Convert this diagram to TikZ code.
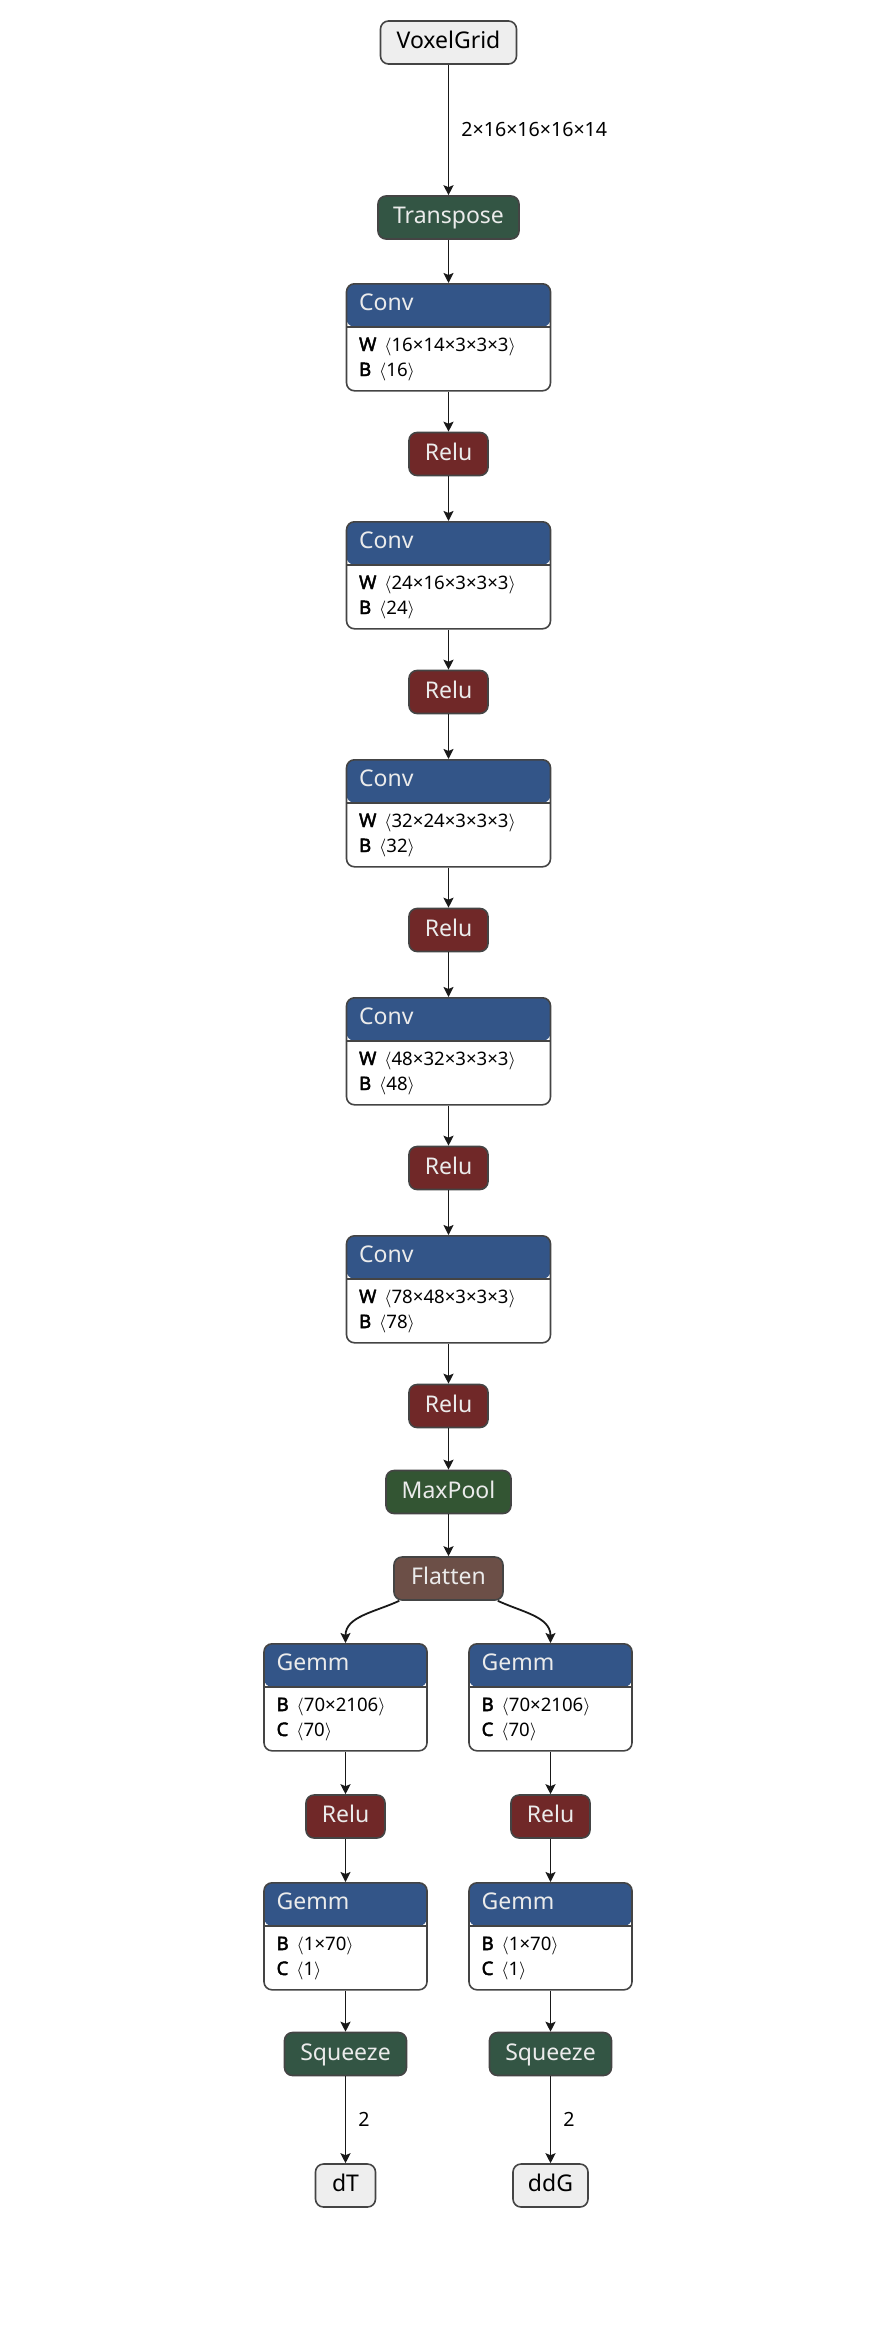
\documentclass[tikz,border=0pt]{standalone}
\usepackage{fontspec}
\setmainfont{Noto Sans}[BoldFont={Noto Sans}, BoldFeatures={FakeBold=2.5}]
\usetikzlibrary{arrows.meta,positioning}

\definecolor{inputc}{HTML}{EEEEEE}
\definecolor{layerc}{HTML}{335588}
\definecolor{reluc}{HTML}{702828}
\definecolor{transc}{HTML}{335544}
\definecolor{poolc}{HTML}{335533}
\definecolor{shapec}{HTML}{6C4F47}
\definecolor{linec}{HTML}{444444}

\tikzset{
  op/.style={draw=linec, line width=0.8pt, rounded corners=4pt, minimum height=21.5pt,
    inner xsep=2pt, text height=8.5pt, text depth=2.5pt,
    text=white!92!black, font=\fontsize{11.5}{13}\selectfont},
  io/.style={op, fill=inputc, text=black},
  layer/.style={draw=linec, line width=0.8pt, rounded corners=4pt, anchor=north,
    minimum height=53.5pt, fill=white,
    path picture={
      \fill[layerc] (path picture bounding box.north west)
        rectangle ([yshift=-21.5pt]path picture bounding box.north east);
      \draw[linec, line width=0.8pt] ([yshift=-21.5pt]path picture bounding box.north west)
        -- ([yshift=-21.5pt]path picture bounding box.north east);
    }},
  hd/.style={anchor=west, inner sep=0pt, text height=8.5pt, text depth=2.5pt,
    text=white!92!black, font=\fontsize{11.5}{13}\selectfont},
  attr/.style={anchor=west, inner sep=0pt, text height=7pt, text depth=2pt,
    font=\fontsize{9.3}{11}\selectfont},
  edge/.style={-{Stealth[length=5pt,width=5pt,inset=1pt]}, line width=0.9pt, draw=black!90},
  shapelbl/.style={right=6pt, inner sep=0pt, font=\fontsize{9.8}{11}\selectfont},
}

% name, position, width, title, row 1, row 2
\newcommand{\layerbox}[6]{%
  \node[layer, minimum width=#3] (#1) at (#2) {};
  \node[hd] (#1-title) at ([xshift=6.5pt,yshift=-10.75pt]#1.north west) {#4};
  \node[attr] (#1-r1) at ([xshift=6.5pt,yshift=-31.5pt]#1.north west) {#5};
  \node[attr] (#1-r2) at ([xshift=6.5pt,yshift=-44pt]#1.north west) {#6};
}
\newcommand{\attrval}[2]{\textbf{#1}\hspace{4pt}$\langle$#2$\rangle$}

\begin{document}
\begin{tikzpicture}[x=0.5pt,y=-0.5pt]
  \useasboundingbox (0,0) rectangle (886,2344);

  \node[io, minimum width=68pt] (vox) at (448.5,42.5) {VoxelGrid};
  \node[op, fill=transc, minimum width=70.5pt] (tr) at (448.5,217.5) {Transpose};
  \draw[edge] (vox) -- node[shapelbl] {2×16×16×16×14} (tr);

  % conv stack
  \foreach \i/\wt/\bs [evaluate=\i as \ytop using 283+(\i-1)*238,
                       evaluate=\i as \yrl using 454+(\i-1)*238] in
      {1/16×14×3×3×3/16, 2/24×16×3×3×3/24, 3/32×24×3×3×3/32,
       4/48×32×3×3×3/48, 5/78×48×3×3×3/78} {
    \layerbox{conv\i}{448.5,\ytop}{102pt}{Conv}{\attrval{W}{\wt}}{\attrval{B}{\bs}}
    \node[op, fill=reluc, minimum width=39.5pt] (relu\i) at (448.5,\yrl) {Relu};
    \draw[edge] (conv\i) -- (relu\i);
  }
  \draw[edge] (tr) -- (conv1);
  \foreach \i [evaluate=\i as \j using int(\i+1)] in {1,...,4} {
    \draw[edge] (relu\i) -- (conv\j);
  }

  \node[op, fill=poolc, minimum width=62.5pt] (pool) at (448.5,1492) {MaxPool};
  \node[op, fill=shapec, minimum width=54.5pt] (flat) at (448.5,1578.5) {Flatten};
  \draw[edge] (relu5) -- (pool);
  \draw[edge] (pool) -- (flat);

  % two heads
  \foreach \s/\bx/\outname/\ow in {L/345.5/dT/30pt, R/550.5/ddG/37.5pt} {
    \layerbox{gemm\s a}{\bx,1643}{81.5pt}{Gemm}{\attrval{B}{70×2106}}{\attrval{C}{70}}
    \node[op, fill=reluc, minimum width=39.5pt] (relu\s) at (\bx,1816.5) {Relu};
    \layerbox{gemm\s b}{\bx,1882}{81.5pt}{Gemm}{\attrval{B}{1×70}}{\attrval{C}{1}}
    \node[op, fill=transc, minimum width=61pt] (sq\s) at (\bx,2054) {Squeeze};
    \node[io, minimum width=\ow] (out\s) at (\bx,2185.5) {\outname};
    \draw[edge] (gemm\s a) -- (relu\s);
    \draw[edge] (relu\s) -- (gemm\s b);
    \draw[edge] (gemm\s b) -- (sq\s);
    \draw[edge] (sq\s) -- node[shapelbl] {2} (out\s);
  }
  \draw[edge] ([xshift=3pt]flat.south west) to[out=205,in=90] (gemmLa.north);
  \draw[edge] ([xshift=-3pt]flat.south east) to[out=-25,in=90] (gemmRa.north);
\end{tikzpicture}
\end{document}
